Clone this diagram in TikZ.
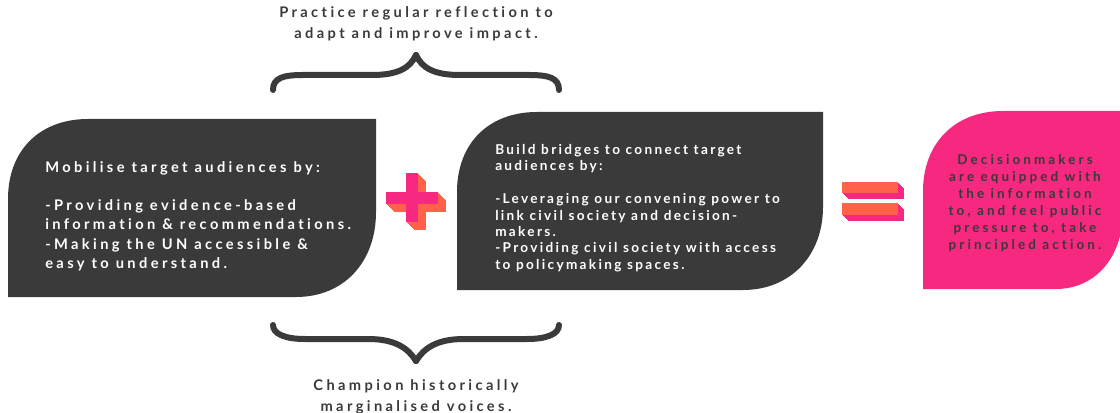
\documentclass[tikz,border=0pt]{standalone}
\usepackage{fontspec}
\setmainfont{Lato}
\newfontfamily\widefont{Lato}[LetterSpace=23, Ligatures=NoCommon]
\newfontfamily\tightfont{Lato}[LetterSpace=17, Ligatures=NoCommon]

\definecolor{slate}{HTML}{3A3A3A}
\definecolor{rosered}{HTML}{F6287F}
\definecolor{coral}{HTML}{FF6249}

\tikzset{
  bigtext/.style  = {text=white, align=left, inner sep=0pt,
                     font=\widefont\bfseries\fontsize{11}{14.4}\selectfont},
  smalltext/.style= {text=white, align=left, inner sep=0pt,
                     font=\tightfont\bfseries\fontsize{10.2}{12.3}\selectfont},
  goaltext/.style = {text=slate, align=center, inner sep=0pt,
                     font=\widefont\bfseries\fontsize{10.1}{12.7}\selectfont},
  bracetext/.style= {text=slate, align=center, inner sep=0pt,
                     font=\widefont\bfseries\fontsize{11}{15.5}\selectfont},
  bracket/.style  = {draw=slate, line width=4.5pt, line cap=round, line join=miter}
}

\begin{document}
\begin{tikzpicture}[x=0.75pt, y=-0.75pt]
\useasboundingbox (0,0) rectangle (1120,413);

% leaf shaped panels
\fill[slate] (8,297) -- (8,199) .. controls (8,150) and (40,119) .. (88,119)
  -- (376,119) -- (376,212) .. controls (376,262) and (344,297) .. (296,297) -- cycle;
\fill[slate] (457,290) -- (457,192) .. controls (457,143) and (489,112) .. (537,112)
  -- (823,112) -- (823,207) .. controls (823,255) and (791,290) .. (743,290) -- cycle;
\fill[rosered] (923,289) -- (923,191) .. controls (923,144) and (954,111) .. (1003,111)
  -- (1120,111) -- (1120,236) .. controls (1112,268) and (1088,289) .. (1056,289) -- cycle;

% plus sign with its shadow
\foreach \d in {1,...,8} {
  \fill[coral] (386+\d,192+\d) rectangle (438+\d,204+\d);
  \fill[coral] (406+\d,173+\d) rectangle (418+\d,222+\d);
}
\fill[rosered] (386,192) rectangle (438,204);
\fill[rosered] (406,173) rectangle (418,222);

% equals sign with its shadow
\foreach \d in {1,...,6} {
  \fill[rosered] (842+\d,182+\d) rectangle (898+\d,193+\d);
  \fill[rosered] (842+\d,203+\d) rectangle (898+\d,215+\d);
}
\fill[coral] (842,182) rectangle (898,193);
\fill[coral] (842,203) rectangle (898,215);

% texts
\node[bigtext, anchor=west] (mobilise) at (45,216) {Mobilise target audiences by:\\[14.4pt]
  -Providing evidence-based\\
  information \& recommendations.\\
  -Making the UN accessible \&\\
  easy to understand.};
\node[smalltext, anchor=west] (bridges) at (495,208) {Build bridges to connect target\\
  audiences by:\\[12.3pt]
  -Leveraging our convening power to\\
  link civil society and decision-\\
  makers.\\
  -Providing civil society with access\\
  to policymaking spaces.};
\node[goaltext] (goal) at (1025,203) {Decisionmakers\\
  are equipped with\\
  the information\\
  to, and feel public\\
  pressure to, take\\
  principled action.};

\node[bracetext] (reflect) at (416,24) {Practice regular reflection to\\
  adapt and improve impact.};
\node[bracetext] (voices) at (416,397) {Champion historically\\
  marginalised voices.};

% braces
\coordinate (toptip) at (416,55);
\coordinate (bottip) at (416,361);
\draw[bracket] (273,90) .. controls (273,78) and (283,75) .. (303,75) -- (372,75)
  .. controls (398,75) and (410,68) .. (toptip);
\draw[bracket] (559,90) .. controls (559,78) and (549,75) .. (529,75) -- (460,75)
  .. controls (434,75) and (422,68) .. (toptip);
\draw[bracket] (273,325) .. controls (273,334) and (285,339) .. (305,339) -- (368,339)
  .. controls (395,339) and (408,348) .. (bottip);
\draw[bracket] (559,325) .. controls (559,334) and (547,339) .. (527,339) -- (464,339)
  .. controls (437,339) and (424,348) .. (bottip);
\end{tikzpicture}
\end{document}
